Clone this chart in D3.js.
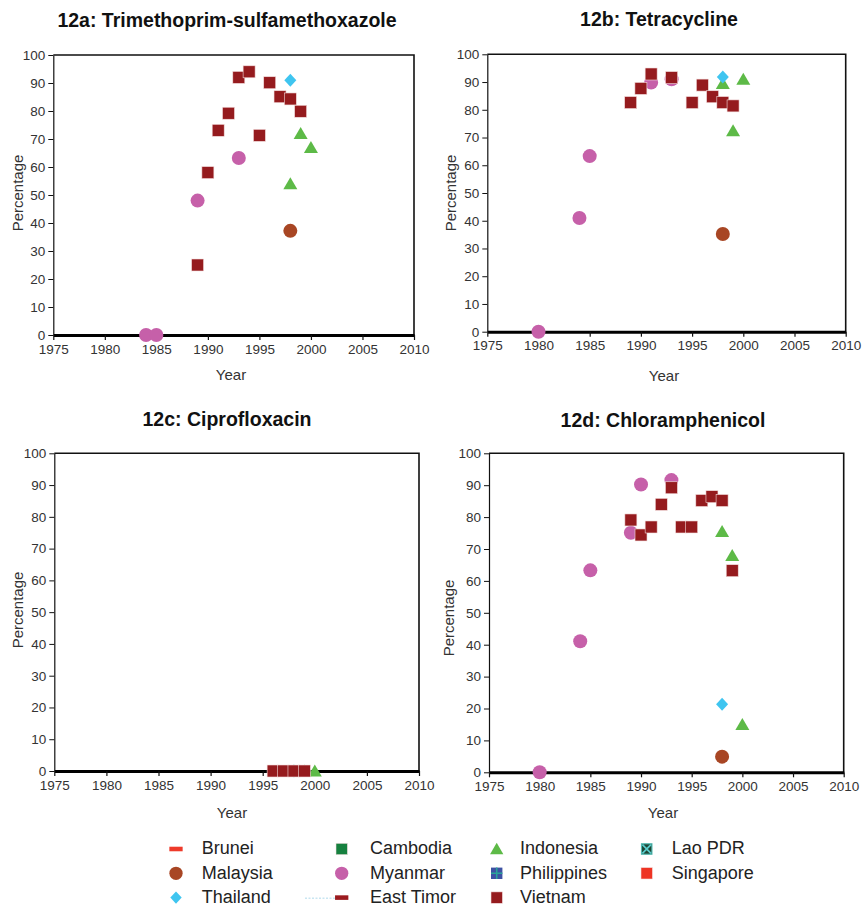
<!DOCTYPE html>
<html><head><meta charset="utf-8">
<script src="https://cdn.jsdelivr.net/npm/d3@7"></script>
<style>
body{margin:0;background:#fff;}
svg{display:block;font-family:"Liberation Sans",Arial,sans-serif;}
</style>
</head><body>
<svg id="chart" width="867" height="907"></svg>
<script>
// ---------- DATA ----------
const countries = ["Brunei","Cambodia","Indonesia","Lao PDR","Malaysia","Myanmar","Philippines","Singapore","Thailand","East Timor","Vietnam"];
const legendOrder = ["Brunei","Cambodia","Indonesia","Lao PDR","Malaysia","Myanmar","Philippines","Singapore","Thailand","East Timor","Vietnam"];
const yearTicks = [1975,1980,1985,1990,1995,2000,2005,2010];
const pctTicks = [0,10,20,30,40,50,60,70,80,90,100];
const panelTitles = ["12a: Trimethoprim-sulfamethoxazole","12b: Tetracycline","12c: Ciprofloxacin","12d: Chloramphenicol"];

// 12a Trimethoprim-sulfamethoxazole
const smxIndonesia = [[1998,54],[1999,72],[2000,67]];
const smxMalaysia  = [[1998,37.2]];
const smxMyanmar   = [[1984,0],[1985,0],[1989,48],[1993,63.2]];
const smxThailand  = [[1998,91]];
const smxVietnam   = [[1989,25],[1990,58],[1991,73.1],[1992,79.2],[1993,92],[1994,94],[1995,71.3],[1996,90.1],[1997,85.1],[1998,84.3],[1999,79.9]];

// 12b Tetracycline
const tetIndonesia = [[1998,89.5],[1999,72.4],[2000,91]];
const tetMalaysia  = [[1998,35.2]];
const tetMyanmar   = [[1980,0],[1984,41],[1985,63.3],[1991,89.8],[1993,91]];
const tetThailand  = [[1998,91.8]];
const tetVietnam   = [[1989,82.6],[1990,87.7],[1991,92.9],[1993,91.6],[1995,82.6],[1996,88.9],[1997,84.7],[1998,82.6],[1999,81.4]];

// 12c Ciprofloxacin
const ciproIndonesia = [[1998,0],[1999,0],[2000,0]];
const ciproThailand  = [[1998,0]];
const ciproVietnam   = [[1996,0],[1997,0],[1998,0],[1999,0]];

// 12d Chloramphenicol
const chlIndonesia = [[1998,75.5],[1999,68],[2000,15]];
const chlMalaysia  = [[1998,4.9]];
const chlMyanmar   = [[1980,0],[1984,41.1],[1985,63.3],[1989,75.1],[1990,90.2],[1993,91.6]];
const chlThailand  = [[1998,21.3]];
const chlVietnam   = [[1989,79.1],[1990,74.4],[1991,76.9],[1992,84],[1993,89.2],[1994,76.9],[1995,76.9],[1996,85.2],[1997,86.4],[1998,85.2],[1999,63.2]];

// ---------- STYLE ----------
const colors = {
  "Brunei":"#ee3a2a","Cambodia":"#16813f","Indonesia":"#5dba47","Lao PDR":"#1e4634",
  "Malaysia":"#a84624","Myanmar":"#c660a9","Philippines":"#3d52a3","Singapore":"#ee3424",
  "Thailand":"#3fc5f0","East Timor":"#9b1b1f","Vietnam":"#951b1e"
};
const shapes = {
  "Brunei":"dash","Cambodia":"square","Indonesia":"triangle","Lao PDR":"xsquare",
  "Malaysia":"circle","Myanmar":"circle","Philippines":"plussquare","Singapore":"square",
  "Thailand":"diamond","East Timor":"dash","Vietnam":"square"
};

const svg = d3.select("#chart");

function drawMarker(g, country, cx, cy, scale) {
  const s = scale || 1;
  const c = colors[country];
  const shp = shapes[country];
  const t = g.append("g").attr("transform", `translate(${cx},${cy}) scale(${s})`);
  if (shp === "square") {
    t.append("rect").attr("x",-6).attr("y",-6).attr("width",12).attr("height",12)
      .attr("fill",c).attr("stroke","#f3dede").attr("stroke-width",0.6);
  } else if (shp === "circle") {
    t.append("circle").attr("r",7).attr("fill",c);
  } else if (shp === "triangle") {
    t.append("path").attr("d","M0,-6.5L7,5.5L-7,5.5Z").attr("fill",c);
  } else if (shp === "diamond") {
    t.append("path").attr("d","M0,-6.5L6,0L0,6.5L-6,0Z").attr("fill",c);
  } else if (shp === "dash") {
    t.append("rect").attr("x",-7).attr("y",-2.4).attr("width",14).attr("height",4.8).attr("fill",c);
  } else if (shp === "xsquare") {
    t.append("rect").attr("x",-5.5).attr("y",-5.5).attr("width",11).attr("height",11)
      .attr("fill",c).attr("stroke","#4fb9b0").attr("stroke-width",1.2);
    t.append("path").attr("d","M-4.5,-4.5L4.5,4.5M4.5,-4.5L-4.5,4.5").attr("stroke","#58cccc").attr("stroke-width",1.8);
  } else if (shp === "plussquare") {
    t.append("rect").attr("x",-6).attr("y",-6).attr("width",12).attr("height",12).attr("fill",c);
    t.append("path").attr("d","M0,-6V6M-6,0H6").attr("stroke","#2aa39a").attr("stroke-width",1.6);
  }
}

const panels = [
  {title:panelTitles[0], tx:227, ty:27, xr:[53.3,414], yr:[335,55], yl:[231,380], pl:[18,193],
   series:[["Indonesia",smxIndonesia],["Malaysia",smxMalaysia],["Myanmar",smxMyanmar],["Thailand",smxThailand],["Vietnam",smxVietnam]]},
  {title:panelTitles[1], tx:659, ty:26, xr:[487.3,845.7], yr:[331.7,54.3], yl:[664,381], pl:[451,193],
   series:[["Indonesia",tetIndonesia],["Malaysia",tetMalaysia],["Myanmar",tetMyanmar],["Thailand",tetThailand],["Vietnam",tetVietnam]]},
  {title:panelTitles[2], tx:227, ty:426, xr:[54.3,419], yr:[771,453.3], yl:[232,818], pl:[18,610],
   series:[["Indonesia",ciproIndonesia],["Thailand",ciproThailand],["Vietnam",ciproVietnam]]},
  {title:panelTitles[3], tx:663, ty:427, xr:[489,843.7], yr:[772.3,453.3], yl:[663,818], pl:[449,618],
   series:[["Indonesia",chlIndonesia],["Malaysia",chlMalaysia],["Myanmar",chlMyanmar],["Thailand",chlThailand],["Vietnam",chlVietnam]]}
];

panels.forEach(p => {
  const x = d3.scaleLinear().domain([1975,2010]).range(p.xr);
  const y = d3.scaleLinear().domain([0,100]).range(p.yr);
  const g = svg.append("g");

  g.append("text").attr("x",p.tx).attr("y",p.ty).attr("text-anchor","middle")
    .attr("font-size",19.5).attr("font-weight","bold").attr("fill","#111").text(p.title);

  // top & right border
  g.append("path").attr("d",`M${p.xr[0]},${p.yr[1]}H${p.xr[1]}V${p.yr[0]}`)
    .attr("fill","none").attr("stroke","#111").attr("stroke-width",1.6);

  const ya = g.append("g").attr("transform",`translate(${p.xr[0]},0)`)
    .call(d3.axisLeft(y).tickValues(pctTicks).tickSize(5).tickPadding(3).tickSizeOuter(0));
  ya.select(".domain").attr("stroke","#111").attr("stroke-width",1.2);
  ya.selectAll(".tick line").attr("stroke","#111");
  ya.selectAll(".tick text").attr("font-size",13.5).attr("fill","#333").attr("font-family","Liberation Sans, Arial, sans-serif");

  const xa = g.append("g").attr("transform",`translate(0,${y(0)})`)
    .call(d3.axisBottom(x).tickValues(yearTicks).tickFormat(d3.format("d")).tickSize(5).tickPadding(4).tickSizeOuter(0));
  xa.select(".domain").attr("stroke","#000").attr("stroke-width",3);
  xa.selectAll(".tick line").attr("stroke","#111").attr("stroke-width",1.2);
  xa.selectAll(".tick text").attr("font-size",13.5).attr("fill","#333").attr("font-family","Liberation Sans, Arial, sans-serif");

  g.append("text").attr("x",p.yl[0]).attr("y",p.yl[1]).attr("text-anchor","middle")
    .attr("font-size",15).attr("fill","#333").text("Year");
  g.append("text").attr("transform",`translate(${p.pl[0]+5},${p.pl[1]}) rotate(-90)`)
    .attr("text-anchor","middle").attr("font-size",15).attr("fill","#333").text("Percentage");

  // markers in series order
  const ordered = p.series.slice().sort((a,b)=>countries.indexOf(a[0])-countries.indexOf(b[0]));
  ordered.forEach(([country, pts]) => {
    const mg = g.append("g").attr("class","series-"+country.replace(/\s/g,""));
    pts.forEach(d => drawMarker(mg, country, x(d[0]), y(d[1])));
  });
});

// ---------- LEGEND ----------
const legX = [176, 341.7, 496.7, 646.7];
const legTX = [201.7, 370, 520, 671.7];
const legY = [849, 873.3, 897.6];
const lg = svg.append("g");
// faint dotted line artifact near East Timor
lg.append("line").attr("x1",305).attr("x2",335).attr("y1",898.3).attr("y2",898.3)
  .attr("stroke","#c9e6f2").attr("stroke-width",1.6).attr("stroke-dasharray","2,1.5");
legendOrder.forEach((c,i) => {
  const col = i % 4, row = Math.floor(i/4);
  const sym = lg.append("g");
  drawMarker(sym, c, legX[col], legY[row], 0.95);
  lg.append("text").attr("x",legTX[col]).attr("y",legY[row]+5.2).attr("font-size",18).attr("fill","#222").text(c);
});
</script>
</body></html>
